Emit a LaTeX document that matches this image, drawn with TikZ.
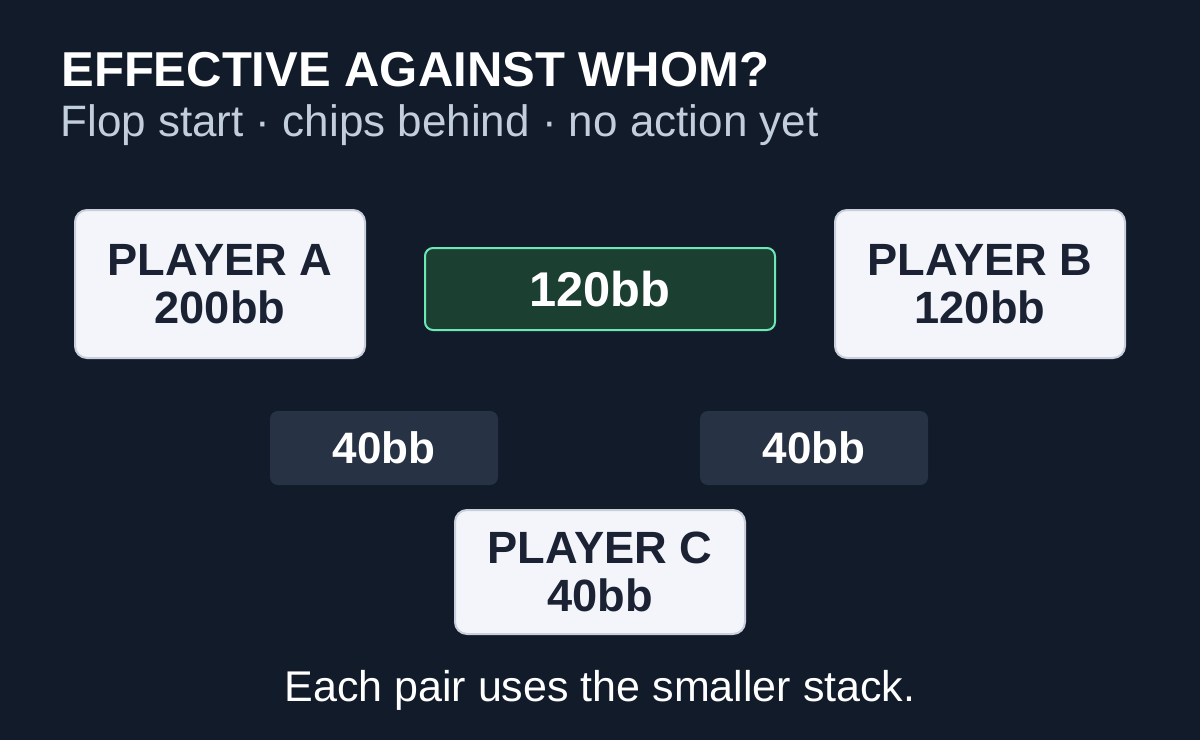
\documentclass[tikz,border=0pt]{standalone}
\usepackage{fontspec}
\setmainfont{Liberation Sans}
\usetikzlibrary{positioning,backgrounds}
\definecolor{bgc}{HTML}{111B2A}
\definecolor{boxc}{HTML}{F3F5FB}
\definecolor{boxline}{HTML}{C9D0DC}
\definecolor{ink}{HTML}{1A2233}
\definecolor{wire}{HTML}{7F8EA3}
\definecolor{greenc}{HTML}{1B4032}
\definecolor{greenline}{HTML}{6EE7B7}
\definecolor{tagc}{HTML}{273244}
\definecolor{subc}{HTML}{C3CEDD}
\tikzset{x=0.5pt, y=-0.5pt}
\tikzset{player/.style={draw=boxline,fill=boxc,rounded corners=6pt,line width=1pt,
    text=ink,font=\bfseries\fontsize{22.6}{24}\selectfont,align=center,inner sep=0pt}}
\tikzset{tag/.style={fill=tagc,rounded corners=4pt,text=white,
    font=\bfseries\fontsize{22}{24}\selectfont,minimum width=114pt,minimum height=37pt}}
\tikzset{wire/.style={draw=wire,line width=2pt}}
\begin{document}
\begin{tikzpicture}
        \fill[bgc] (0,0) rectangle (1200,740);
        \useasboundingbox (0,0) rectangle (1200,740);
        \node (title) [anchor=west,inner sep=0pt,text=white,font=\bfseries\fontsize{24.5}{26}\selectfont] at (61,70) {EFFECTIVE AGAINST WHOM?};
        \node (sub) [anchor=west,inner sep=0pt,text=subc,font=\fontsize{22}{24}\selectfont] at (60,125) {Flop start · chips behind · no action yet};
        \node (A) [player,minimum width=145pt,minimum height=74pt] at (220,284) {PLAYER A\\200bb};
        \node (B) [player,minimum width=145pt,minimum height=74pt] at (980,284) {PLAYER B\\120bb};
        \node (C) [player,minimum width=145pt,minimum height=62pt] at (600,572) {PLAYER C\\40bb};
        \node (ab) [tag,fill=greenc,draw=greenline,line width=1pt,minimum width=175pt,minimum height=41pt,font=\bfseries\fontsize{24.4}{26}\selectfont] at (600,289) {120bb};
        \node (ac) [tag] at (384,448) {40bb};
        \node (bc) [tag] at (814,448) {40bb};
        \begin{scope}[on background layer]
        \fill[bgc] (0,0) rectangle (1200,740);
        \end{scope}
        \begin{scope}[on background layer]
        \draw[wire] (A) -- (B);
        \draw[wire] (A) -- (C);
        \draw[wire] (B) -- (C);
        \end{scope}
        \node (note) [text=white,font=\fontsize{21.5}{24}\selectfont] at (600,690) {Each pair uses the smaller stack.};
\end{tikzpicture}
\end{document}
